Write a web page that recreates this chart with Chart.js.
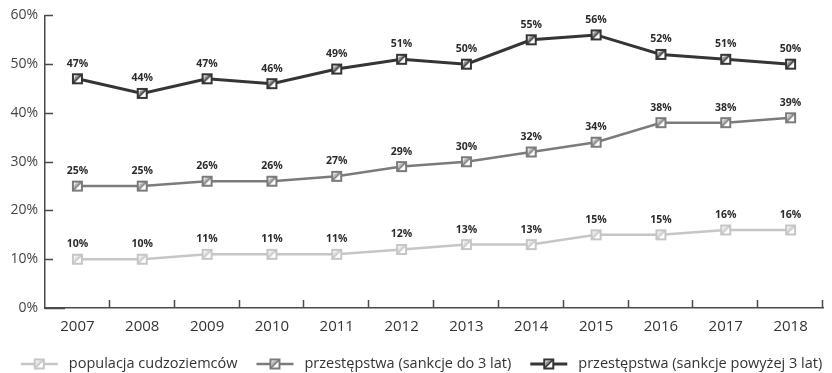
<!DOCTYPE html>
<html lang="pl">
<head>
<meta charset="utf-8">
<title>Cudzoziemcy i przestępstwa 2007–2018</title>
<script src="https://cdn.jsdelivr.net/npm/chart.js@4"></script>
<style>
  html, body { margin: 0; padding: 0; background: #fff; }
  #wrap { width: 832px; height: 373px; position: relative; }
</style>
</head>
<body>
<div id="wrap"><canvas id="chart"></canvas></div>
<script>
// Years on the x axis
const years = ['2007', '2008', '2009', '2010', '2011', '2012', '2013', '2014', '2015', '2016', '2017', '2018'];

// Shares in percent
const foreignPopulation = [10, 10, 11, 11, 11, 12, 13, 13, 15, 15, 16, 16];
const crimesUpTo3 = [25, 25, 26, 26, 27, 29, 30, 32, 34, 38, 38, 39];
const crimesOver3 = [47, 44, 47, 46, 49, 51, 50, 55, 56, 52, 51, 50];

const seriesNames = [
    'populacja cudzoziemców',
    'przestępstwa (sankcje do 3 lat)',
    'przestępstwa (sankcje powyżej 3 lat)'
];
const yTicks = [0, 10, 20, 30, 40, 50, 60];

const FONT = '"Open Sans", "DejaVu Sans", sans-serif';
const AXIS_COLOR = '#4a4a4a';

// square marker with a diagonal half-shade
function drawMarker(ctx, cx, cy, size, color) {
    const h = size / 2;
    ctx.fillStyle = '#fff';
    ctx.fillRect(cx - h, cy - h, size, size);
    ctx.fillStyle = color;
    ctx.globalAlpha = 0.55;
    ctx.beginPath();
    ctx.moveTo(cx - h, cy + h);
    ctx.lineTo(cx + h, cy - h);
    ctx.lineTo(cx - h + 2, cy - h + 2);
    ctx.closePath();
    ctx.fill();
    ctx.globalAlpha = 1;
    ctx.strokeStyle = color;
    ctx.lineWidth = 1.5;
    ctx.beginPath();
    ctx.moveTo(cx - h, cy + h);
    ctx.lineTo(cx + h, cy - h);
    ctx.stroke();
    ctx.lineWidth = 2;
    ctx.strokeRect(cx - h, cy - h, size, size);
}

function markerImage(color) {
    const c = document.createElement('canvas');
    c.width = 13; c.height = 13;
    drawMarker(c.getContext('2d'), 6.5, 6.5, 9, color);
    return c;
}

const colors = ['#c6c6c6', '#7b7b7b', '#353535'];
const widths = [2.5, 2.5, 3];
const values = [foreignPopulation, crimesUpTo3, crimesOver3];

const datasets = values.map((data, i) => ({
    label: seriesNames[i],
    data: data,
    borderColor: colors[i],
    backgroundColor: colors[i],
    borderWidth: widths[i],
    pointStyle: markerImage(colors[i]),
    pointRadius: 6,
    tension: 0,
    fill: false
}));

// value labels above each point
const valueLabels = {
    id: 'valueLabels',
    afterDatasetsDraw(chart) {
        const ctx = chart.ctx;
        ctx.save();
        ctx.font = 'bold 10.5px ' + FONT;
        ctx.fillStyle = '#2b2b2b';
        ctx.textAlign = 'center';
        ctx.textBaseline = 'middle';
        chart.data.datasets.forEach((ds, i) => {
            chart.getDatasetMeta(i).data.forEach((pt, j) => {
                ctx.fillText(ds.data[j] + '%', pt.x, pt.y - 15);
            });
        });
        ctx.restore();
    }
};

// short tick marks pointing into the plot area
const innerTicks = {
    id: 'innerTicks',
    beforeDatasetsDraw(chart) {
        const { ctx, chartArea, scales } = chart;
        ctx.save();
        ctx.strokeStyle = AXIS_COLOR;
        ctx.lineWidth = 1.5;
        ctx.beginPath();
        yTicks.forEach(v => {
            const y = Math.round(scales.y.getPixelForValue(v)) + 0.5;
            ctx.moveTo(chartArea.left, y);
            ctx.lineTo(chartArea.left + (v === 0 ? 20 : 8), y);
        });
        const step = (chartArea.right - chartArea.left) / years.length;
        for (let i = 1; i <= years.length; i++) {
            const x = Math.round(chartArea.left + i * step) - 0.5;
            ctx.moveTo(x, chartArea.bottom);
            ctx.lineTo(x, chartArea.bottom - 8);
        }
        ctx.stroke();
        ctx.restore();
    }
};

// one-row legend along the bottom edge: line + marker, then the name
const bottomLegend = {
    id: 'bottomLegend',
    afterDraw(chart) {
        const ctx = chart.ctx;
        const swatch = 37, gap = 11, itemGap = 19;
        const y = 364;
        ctx.save();
        ctx.font = '14.5px ' + FONT;
        const textW = seriesNames.map(t => ctx.measureText(t).width);
        const total = textW.reduce((a, w) => a + swatch + gap + w, 0) + itemGap * (seriesNames.length - 1);
        let x = 421.5 - total / 2;
        seriesNames.forEach((name, i) => {
            ctx.strokeStyle = colors[i];
            ctx.lineWidth = widths[i];
            ctx.beginPath();
            ctx.moveTo(x, y);
            ctx.lineTo(x + swatch, y);
            ctx.stroke();
            drawMarker(ctx, x + swatch / 2, y, 9, colors[i]);
            ctx.fillStyle = '#333';
            ctx.textAlign = 'left';
            ctx.textBaseline = 'middle';
            ctx.fillText(name, x + swatch + gap, y);
            x += swatch + gap + textW[i] + itemGap;
        });
        ctx.restore();
    }
};

new Chart(document.getElementById('chart'), {
    type: 'line',
    data: { labels: years, datasets: datasets },
    plugins: [innerTicks, valueLabels, bottomLegend],
    options: {
        responsive: true,
        maintainAspectRatio: false,
        animation: false,
        layout: { padding: { top: 12, right: 2, left: 0, bottom: 33 } },
        plugins: {
            legend: { display: false },
            tooltip: { enabled: false }
        },
        scales: {
            x: {
                offset: true,
                grid: { display: false, drawTicks: false },
                border: { display: true, color: AXIS_COLOR, width: 1.5 },
                ticks: {
                    padding: 10,
                    color: '#333',
                    font: { family: FONT, size: 15 }
                },
                afterFit(scale) { scale.height = 32; }
            },
            y: {
                min: 0,
                max: 60,
                grid: { display: false, drawTicks: false },
                border: { display: true, color: AXIS_COLOR, width: 1.5 },
                ticks: {
                    stepSize: 10,
                    padding: 7,
                    color: '#444',
                    font: { family: FONT, size: 14 },
                    callback: v => v + '%'
                },
                afterFit(scale) { scale.width = 45; }
            }
        }
    }
});
</script>
</body>
</html>
